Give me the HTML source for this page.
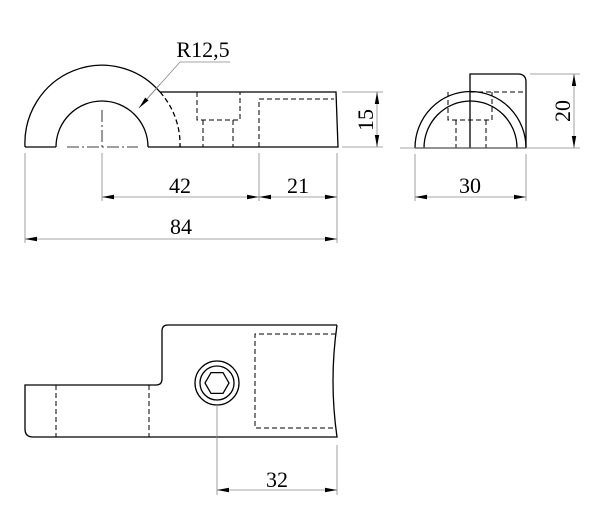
<!DOCTYPE html>
<html><head><style>body{margin:0;background:#fff}svg{display:block}</style></head><body>
<svg width="600" height="530" viewBox="0 0 600 530" xmlns="http://www.w3.org/2000/svg" font-family="Liberation Serif, serif" font-size="22">
<defs>
<marker id="a" markerWidth="12" markerHeight="6" refX="12" refY="3" orient="auto-start-reverse" markerUnits="userSpaceOnUse"><path d="M0,0.8 L12,3 L0,5.2z" fill="#000"/></marker>
</defs>
<g fill="none" stroke="#000" stroke-width="1.3">
<path d="M25,147 A77,78 0 0 1 160,92"/>
<path d="M160,92 A77,78 0 0 1 180,147" stroke-dasharray="5,3"/>
<path d="M56,147 A46,46 0 0 1 148,147"/>
<path d="M25,147 H56 M148,147 H338 L336,92 H160"/>
<g stroke-dasharray="5,3" stroke-width="1">
<path d="M197,92 V120 H240 V92 M203,120 V147 M233,120 V147 M259,147 V99 H334"/>
</g>
<path d="M102,110 V150 M67,147 H138" stroke-width="0.8" stroke-dasharray="12,3,2,3"/>
<path d="M415,148 A55,56 0 0 1 526,148"/>
<path d="M424,148 A46.5,47 0 0 1 517,148"/>
<path d="M415,148 H526 M470,148 V74 H518 Q526,74 526,82 V148"/>
<g stroke-dasharray="5,3" stroke-width="1">
<path d="M470,92 H526 M448,92 V120 H492 V92 M456,120 V148 M486,120 V148"/>
</g>
<path d="M337,325 H168 Q162,325 162,331 V379 Q162,385 156,385 H25 V429 Q25,437 33,437 H337 Q329,381 337,325"/>
<g stroke-dasharray="5,3" stroke-width="1">
<path d="M56,385 V437 M149,385 V437 M336,334 H255 V428 H336"/>
</g>
<circle cx="217" cy="383" r="22"/>
<circle cx="217" cy="383" r="17"/>
<polygon points="229,383 223,393.4 211,393.4 205,383 211,372.6 223,372.6"/>
</g>
<g fill="none" stroke="#888" stroke-width="0.8">
<path d="M102,153 V201 M259,153 V201 M337,153 V243 M25,153 V243"/>
<path d="M342,92 H383 M342,147 H383"/>
<path d="M530,74 H580 M400,148 H580 M415,154 V201 M526,154 V201"/>
<path d="M217,405 V495 M337,445 V495"/>
<path d="M139,108 L180,62 H230"/>
</g>
<g stroke="#888" stroke-width="0.8" fill="none">
<path d="M102,197 H259" marker-start="url(#a)" marker-end="url(#a)"/>
<path d="M259,197 H337" marker-start="url(#a)" marker-end="url(#a)"/>
<path d="M25,239 H337" marker-start="url(#a)" marker-end="url(#a)"/>
<path d="M377,92 V147" marker-start="url(#a)" marker-end="url(#a)"/>
<path d="M574,74 V148" marker-start="url(#a)" marker-end="url(#a)"/>
<path d="M415,197 H526" marker-start="url(#a)" marker-end="url(#a)"/>
<path d="M217,490 H337" marker-start="url(#a)" marker-end="url(#a)"/>
<path d="M160,84 L139,108" marker-end="url(#a)"/>
</g>
<g fill="#000" text-anchor="middle">
<text x="203" y="57">R12,5</text>
<text x="180" y="193">42</text>
<text x="298" y="193">21</text>
<text x="181" y="234">84</text>
<text x="470" y="193">30</text>
<text x="277" y="487">32</text>
<text transform="translate(373,120) rotate(-90)">15</text>
<text transform="translate(570,111) rotate(-90)">20</text>
</g>
</svg>
</body></html>
